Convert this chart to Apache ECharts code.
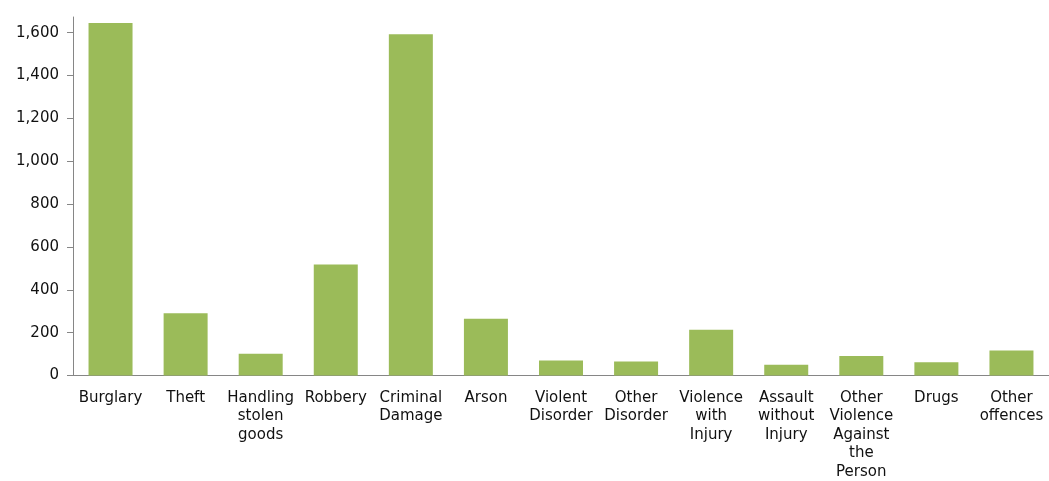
<!DOCTYPE html>
<html>
<head>
<meta charset="utf-8">
<script src="https://cdn.jsdelivr.net/npm/echarts@6/dist/echarts.min.js"></script>
<style>html,body{margin:0;padding:0;background:#fff;}#chart{width:1049px;height:481px;}</style>
</head>
<body>
<div id="chart"></div>
<script>
const categories = [
  "Burglary", "Theft", "Handling\nstolen\ngoods", "Robbery", "Criminal\nDamage", "Arson",
  "Violent\nDisorder", "Other\nDisorder", "Violence\nwith\nInjury", "Assault\nwithout\nInjury",
  "Other\nViolence\nAgainst\nthe\nPerson", "Drugs", "Other\noffences"
];
const offences = [1645, 290, 102, 518, 1593, 265, 70, 65, 214, 50, 91, 62, 117];
const yTicks = [0, 200, 400, 600, 800, 1000, 1200, 1400, 1600];

const chart = echarts.init(document.getElementById('chart'));
chart.setOption({
  animation: false,
  backgroundColor: '#ffffff',
  grid: { left: 73, top: 17, width: 979, height: 367, containLabel: false },
  xAxis: {
    type: 'category',
    data: categories,
    axisLine: { lineStyle: { color: '#868686', width: 1 } },
    axisTick: { show: false },
    axisLabel: {
      interval: 0,
      margin: 13,
      color: '#111111',
      fontFamily: 'DejaVu Sans',
      fontSize: 15,
      lineHeight: 18.5
    }
  },
  yAxis: {
    type: 'value',
    min: 0,
    max: 1673,
    interval: 200,
    splitLine: { show: false },
    axisLine: { show: true, lineStyle: { color: '#868686', width: 1 } },
    axisTick: { show: true, length: 6, lineStyle: { color: '#868686' } },
    axisLabel: {
      margin: 14,
      showMaxLabel: false,
      color: '#111111',
      fontFamily: 'DejaVu Sans',
      fontSize: 15,
      formatter: function (v) { return yTicks.indexOf(v) >= 0 ? v.toLocaleString('en-US') : ''; }
    }
  },
  series: [{
    type: 'bar',
    data: offences,
    barWidth: 44,
    itemStyle: { color: '#9BBB59' }
  }]
});
</script>
</body>
</html>
